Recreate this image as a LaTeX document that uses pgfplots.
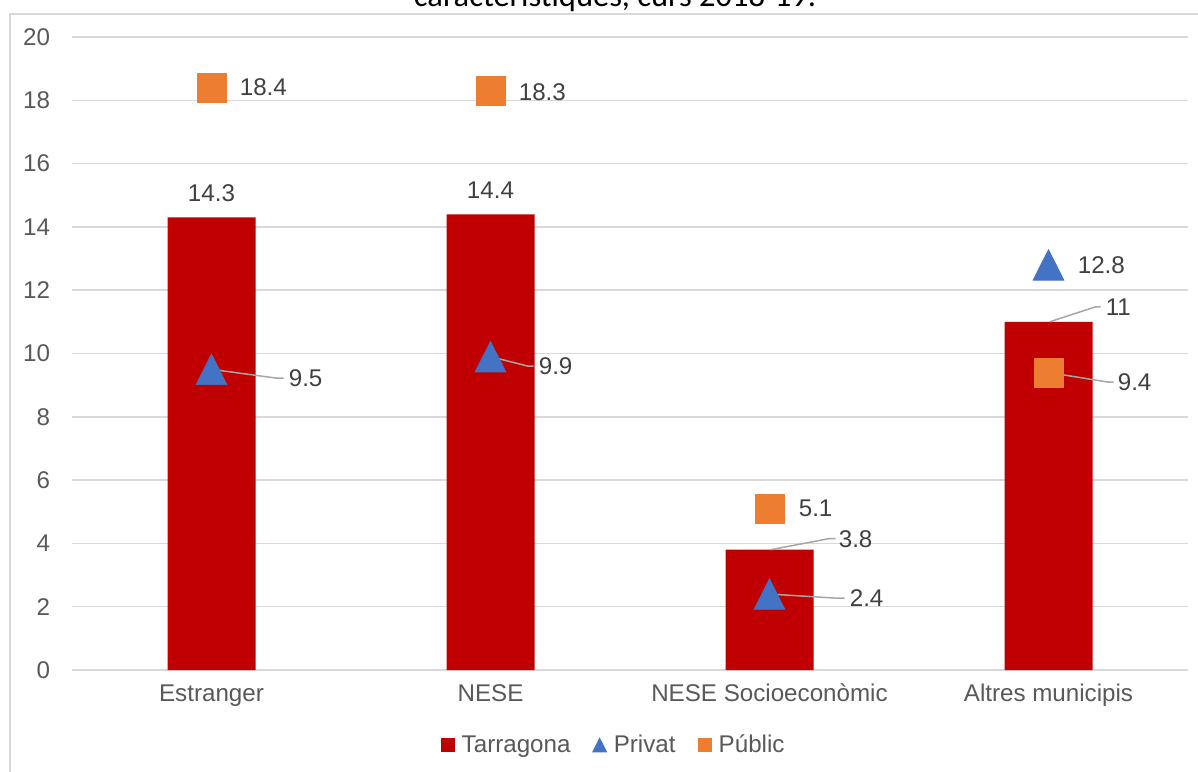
\documentclass[border=0pt]{standalone}
\usepackage{pgfplots}
\pgfplotsset{compat=1.18}
\usepackage{fontspec}
\setmainfont{Liberation Sans}
\newfontfamily\titlefont{Carlito}

\definecolor{tarr}{HTML}{C00000}
\definecolor{priv}{HTML}{4472C4}
\definecolor{pub}{HTML}{ED7D31}
\definecolor{gridgray}{HTML}{D9D9D9}
\definecolor{tickgray}{HTML}{595959}
\definecolor{labgray}{HTML}{404040}
\definecolor{leadgray}{HTML}{A6A6A6}

\begin{document}
\begin{tikzpicture}[x=0.6pt,y=0.6pt,
    lbl/.style={font=\fontsize{14.5}{17}\selectfont, text=labgray, inner sep=0pt},
    lead/.style={draw=leadgray, line width=0.9pt}]
  \useasboundingbox (0,0) rectangle (1198,771);
  \clip (0,0) rectangle (1198,771);
  % second line of the title, cut by the chart area
  \node[font=\titlefont\fontsize{19.5}{23}\selectfont, anchor=base] at (615,764) {característiques, curs 2018-19.};
  \fill[white] (10,-5) rectangle (1210,757);
  \draw[gridgray, line width=1.2pt] (10,-5) |- (1210,757);

  \begin{axis}[
    at={(43.2pt,60.6pt)}, anchor=south west,
    scale only axis, width=669.6pt, height=379.8pt,
    xmin=-0.5, xmax=3.5, ymin=0, ymax=20,
    axis line style={draw=none},
    major tick length=0pt,
    ytick={0,2,...,20}, xtick={0,1,2,3},
    xticklabels={Estranger,NESE,NESE Socioeconòmic,Altres municipis},
    ymajorgrids, grid style={color=gridgray, line width=0.9pt},
    ticklabel style={font=\fontsize{14.5}{17}\selectfont, text=tickgray},
    /pgf/number format/assume math mode=true,
    yticklabel style={inner sep=0pt, anchor=east, xshift=-13pt},
    xticklabel style={inner sep=0pt, anchor=north, yshift=-11.4pt, text height=0.72em, text depth=0.21em},
    clip=false,
    legend image code/.code={\draw[#1] plot coordinates {(0.15cm,0cm)}; \path (0cm,0cm) (0.37cm,0cm);},
    legend style={at={(0.4857,-0.1185)}, anchor=center, draw=none, fill=none,
      font=\fontsize{14.5}{17}\selectfont, text=tickgray,
      /tikz/every even column/.append style={column sep=11pt}},
    legend columns=3,
  ]
    \addlegendimage{only marks, mark=square*, mark size=3.9pt, color=tarr, mark options={draw=none}}
    \addlegendentry{Tarragona}
    \addlegendimage{only marks, mark=triangle*, mark size=4.85pt, color=priv, mark options={draw=none, yshift=-1.4pt, yscale=1.145}}
    \addlegendentry{Privat}
    \addlegendimage{only marks, mark=square*, mark size=3.9pt, color=pub, mark options={draw=none}}
    \addlegendentry{Públic}

    % Tarragona
    \addplot[ybar, bar width=52.8pt, fill=tarr, draw=none, forget plot]
      coordinates {(0,14.3) (1,14.4) (2,3.8) (3,11)};
    % Privat
    \addplot[only marks, mark=triangle*, mark size=10.7pt, color=priv,
      mark options={draw=none, fill=priv, yshift=-3.06pt, yscale=1.145}, forget plot]
      coordinates {(0,9.5) (1,9.9) (2,2.4) (3,12.8)};
    % Públic
    \addplot[only marks, mark=square*, mark size=8.7pt, color=pub,
      mark options={draw=none, fill=pub}, forget plot]
      coordinates {(0,18.4) (1,18.3) (2,5.1) (3,9.4)};

    % data labels
    \node[lbl, yshift=14.4pt] at (axis cs:0,14.3) {14.3};
    \node[lbl, yshift=14.4pt] at (axis cs:1,14.4) {14.4};
    \node[lbl, anchor=west, xshift=16.8pt] at (axis cs:0,18.4) {18.4};
    \node[lbl, anchor=west, xshift=16.8pt, yshift=-0.6pt] at (axis cs:1,18.3) {18.3};
    \node[lbl, anchor=west, xshift=17.4pt] at (axis cs:2,5.1) {5.1};
    \node[lbl, anchor=west, xshift=17.4pt] at (axis cs:3,12.8) {12.8};

    \draw[lead] (axis cs:0,9.5) -- ++(38.4pt,-5.2pt) -- ++(4.8pt,0pt);
    \node[lbl, anchor=west, xshift=46.2pt, yshift=-5.2pt] at (axis cs:0,9.5) {9.5};
    \draw[lead] (axis cs:1,9.9) -- ++(22.2pt,-5.6pt) -- ++(3.6pt,0pt);
    \node[lbl, anchor=west, xshift=28.8pt, yshift=-5.6pt] at (axis cs:1,9.9) {9.9};
    \draw[lead] ([xshift=0.6pt]axis cs:2,3.8) -- ++(34.8pt,6.6pt) -- ++(4.2pt,0pt);
    \node[lbl, anchor=west, xshift=41.4pt, yshift=6.6pt] at (axis cs:2,3.8) {3.8};
    \draw[lead] (axis cs:2,2.4) -- ++(39pt,-2.4pt) -- ++(6pt,0pt);
    \node[lbl, anchor=west, xshift=48pt, yshift=-2.4pt] at (axis cs:2,2.4) {2.4};
    \draw[lead] ([xshift=0.6pt]axis cs:3,11) -- ++(27.6pt,9pt) -- ++(3pt,0pt);
    \node[lbl, anchor=west, xshift=34.2pt, yshift=9pt] at (axis cs:3,11) {11};
    \draw[lead] (axis cs:3,9.4) -- ++(35.4pt,-5.7pt) -- ++(3.6pt,0pt);
    \node[lbl, anchor=west, xshift=41.4pt, yshift=-5.7pt] at (axis cs:3,9.4) {9.4};
  \end{axis}
\end{tikzpicture}
\end{document}
